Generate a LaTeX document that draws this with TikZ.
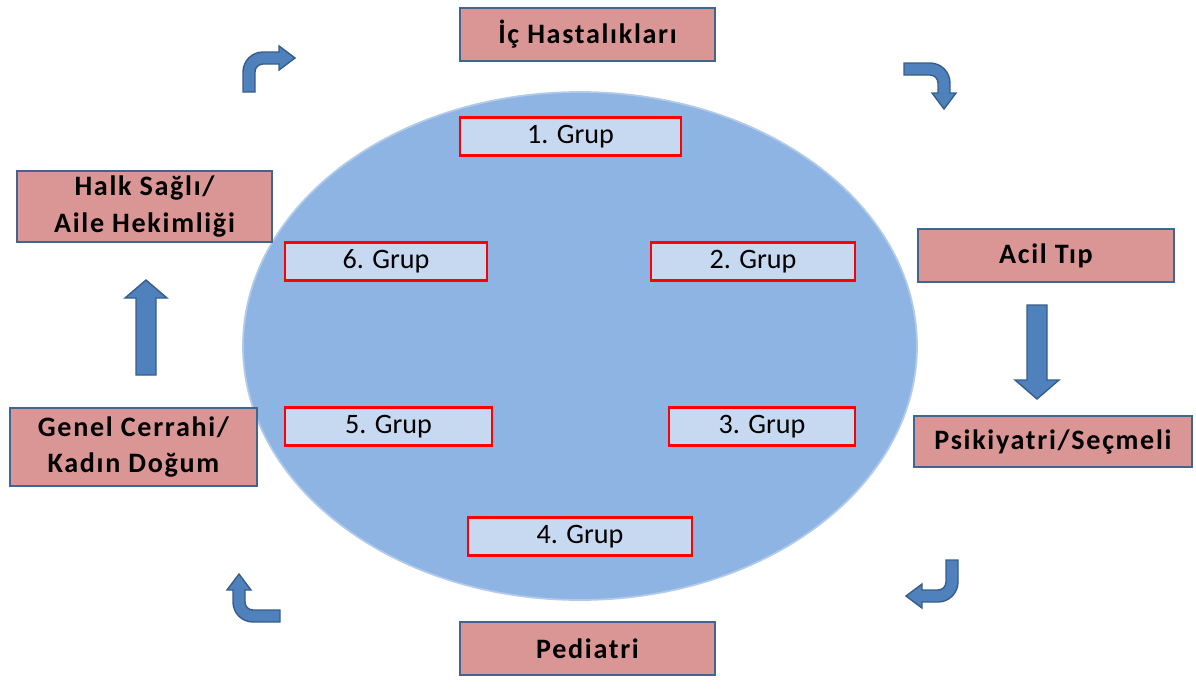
\documentclass[tikz,border=0pt]{standalone}
\usepackage{fontspec}
\setmainfont{Carlito}
\usepackage{tikz}
\usetikzlibrary{shapes, positioning}

\definecolor{deptfill}{HTML}{D99694}
\definecolor{deptline}{HTML}{40658F}
\definecolor{grpfill}{HTML}{C6D9F1}
\definecolor{ovalfill}{HTML}{8EB4E3}
\definecolor{ovalline}{HTML}{B3CBEA}
\definecolor{arrowfill}{HTML}{4F81BD}
\definecolor{arrowline}{HTML}{385D8A}

% bent arrow, origin at the centre of the bend
\newcommand{\bentarrow}[2]{%
  \filldraw[blockarrow] (-20,#1) -- (-20,0) arc (180:270:20) -- (#2,-20)
    -- (#2,-26) -- ({#2+16},-14) -- (#2,-2) -- (#2,-8) -- (0,-8)
    arc (270:180:8) -- (-8,#1) -- cycle;}

\begin{document}
\begin{tikzpicture}[x=0.02cm, y=-0.02cm,
    dept/.style={draw=deptline, fill=deptfill, line width=1.2pt,
      inner sep=0pt, align=center,
      font=\fontsize{16}{21}\selectfont\bfseries\addfontfeature{LetterSpace=6}},
    grp/.style={draw=red, fill=grpfill, line width=1.3pt, inner sep=0pt,
      minimum height=0.76cm, font=\fontsize{16}{19}\selectfont},
    blockarrow/.style={fill=arrowfill, draw=arrowline, line width=0.8pt}]
        \useasboundingbox (0,0) rectangle (1196,697);

        % Oval in the middle
        \filldraw[fill=ovalfill, draw=ovalline, line width=1pt]
        (580,346) ellipse (337 and 254);

        % Groups
        \node[grp, minimum width=4.42cm] (g1) at (570.5,136.5) {1. Grup};
        \node[grp, minimum width=4.08cm] (g2) at (753,261.5) {2. Grup};
        \node[grp, minimum width=3.72cm] (g3) at (762,426.5) {3. Grup};
        \node[grp, minimum width=4.48cm] (g4) at (580,536.5) {4. Grup};
        \node[grp, minimum width=4.14cm] (g5) at (388.5,426.5) {5. Grup};
        \node[grp, minimum width=4.04cm] (g6) at (386,261.5) {6. Grup};

        % Departments
        \node[dept, minimum width=5.1cm, minimum height=1.06cm]
        (ic) at (587.5,34.5) {İç Hastalıkları};
        \node[dept, minimum width=5.12cm, minimum height=1.06cm]
        (acil) at (1046,255.5) {Acil Tıp};
        \node[dept, minimum width=5.56cm, minimum height=1.02cm]
        (psik) at (1053,441.5) {Psikiyatri/Seçmeli};
        \node[dept, minimum width=5.1cm, minimum height=1.06cm]
        (ped) at (587.5,648.5) {Pediatri};
        \node[dept, minimum width=4.94cm, minimum height=1.56cm]
        (genel) at (133.5,447) {Genel Cerrahi/\\Kadın Doğum};
        \node[dept, minimum width=5.1cm, minimum height=1.42cm]
        (halk) at (144.5,206.5) {Halk Sağlı/\\Aile Hekimliği};

        % Straight arrows
        \filldraw[blockarrow] (1027,305) -- (1047,305) -- (1047,380)
        -- (1059,380) -- (1037,399) -- (1015,380) -- (1027,380) -- cycle;
        \filldraw[blockarrow] (136,375) -- (156,375) -- (156,298)
        -- (167,298) -- (146,280) -- (125,298) -- (136,298) -- cycle;

        % Bent arrows
        \begin{scope}[shift={(263,72)}]
          \bentarrow{20}{16}
        \end{scope}
        \begin{scope}[shift={(930,83)}, rotate=-90]
          \bentarrow{26}{10}
        \end{scope}
        \begin{scope}[shift={(938,582)}, rotate=180]
          \bentarrow{22}{16}
        \end{scope}
        \begin{scope}[shift={(253,602)}, rotate=90]
          \bentarrow{27}{12}
        \end{scope}
    \end{tikzpicture}
\end{document}
